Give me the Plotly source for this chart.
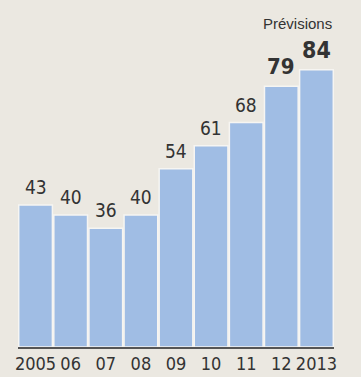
import plotly.graph_objects as go

categories = ["2005", "06", "07", "08", "09", "10", "11", "12", "2013"]
values = [43, 40, 36, 40, 54, 61, 68, 79, 84]
label_sizes = [19, 19, 19, 19, 19, 19, 19, 22, 23]

bg = "#ebe8e1"
bar_color = "#a0bde4"
text_color = "#333333"
narrow = "Liberation Sans Narrow, DejaVu Sans Condensed, Arial Narrow, sans-serif"

fig = go.Figure()
fig.add_trace(go.Bar(
    x=list(range(len(categories))), y=values,
    marker=dict(color=bar_color, line=dict(color="#f6f5f2", width=1.5)),
    hoverinfo="skip",
))

for i, (v, s) in enumerate(zip(values, label_sizes)):
    fig.add_annotation(
        x=i, y=v, text=f"<b>{v}</b>" if s > 20 else str(v),
        showarrow=False, yanchor="bottom", yshift=5,
        font=dict(family=narrow, size=s, color=text_color),
    )

fig.add_annotation(
    xref="paper", yref="paper", x=1.0, y=1.0, xanchor="right", yanchor="bottom",
    text="Prévisions", showarrow=False, yshift=-17,
    font=dict(family="Liberation Sans, Arial, sans-serif", size=15, color=text_color),
)

fig.update_layout(
    width=361, height=377,
    margin=dict(l=18, r=27, t=17, b=30),
    paper_bgcolor=bg, plot_bgcolor=bg,
    bargap=0.04,
    showlegend=False,
    xaxis=dict(
        range=[-0.5, len(categories) - 0.5],
        tickmode="array", tickvals=list(range(len(categories))), ticktext=categories,
        tickangle=0, automargin=False,
        showline=True, linecolor="#555555", linewidth=1.5,
        ticks="", showgrid=False, zeroline=False,
        tickfont=dict(family=narrow, size=18, color=text_color),
    ),
    yaxis=dict(range=[0, 100], visible=False, showgrid=False, zeroline=False),
)

fig.write_html("out.html")
